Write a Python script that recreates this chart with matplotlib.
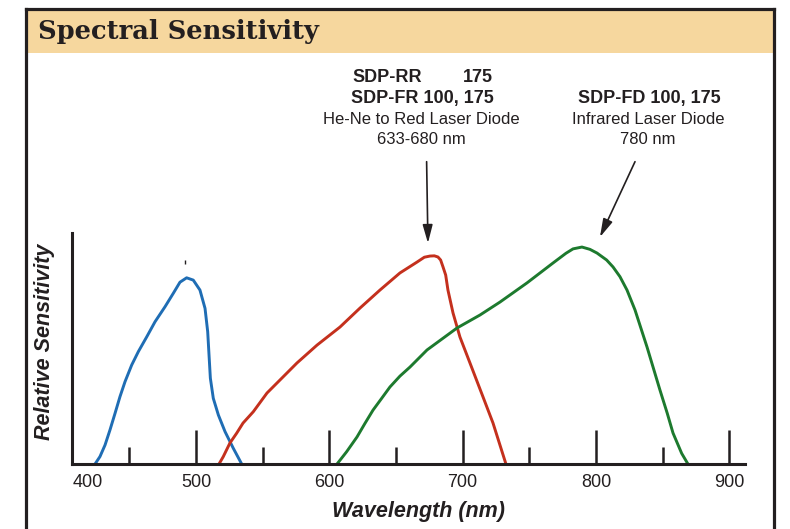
import matplotlib.pyplot as plt
from matplotlib.patches import Rectangle
from matplotlib.lines import Line2D

# wavelength (nm) / relative sensitivity
blue_nm = [424.3, 428.0, 431.8, 435.5, 439.3, 443.0, 446.8, 451.8, 456.8, 463.1,
           469.3, 476.8, 483.0, 488.0, 493.0, 498.0, 503.0, 506.8, 508.8, 509.8,
           510.8, 513.0, 516.8, 521.8, 528.0, 534.3]
blue_val = [0.0, 0.032, 0.082, 0.147, 0.219, 0.291, 0.356, 0.428, 0.486, 0.550,
            0.615, 0.680, 0.738, 0.786, 0.805, 0.795, 0.752, 0.673, 0.572, 0.471,
            0.371, 0.284, 0.212, 0.140, 0.068, 0.0]

red_nm = [517.3, 520.5, 525.5, 530.5, 535.3, 543.0, 553.3, 575.8, 590.8, 608.0,
          623.0, 638.0, 653.0, 665.8, 671.3, 675.5, 678.8, 681.5, 683.5, 685.3,
          687.3, 689.0, 692.8, 698.0, 705.5, 715.3, 722.8, 732.5]
red_val = [0.0, 0.032, 0.091, 0.133, 0.177, 0.226, 0.307, 0.437, 0.514, 0.592,
           0.674, 0.752, 0.826, 0.873, 0.894, 0.899, 0.900, 0.895, 0.882, 0.852,
           0.817, 0.752, 0.653, 0.549, 0.437, 0.290, 0.177, 0.0]

green_nm = [605.8, 613.0, 620.8, 626.8, 632.8, 639.3, 645.5, 653.0, 660.5, 673.3,
            695.8, 713.0, 728.0, 748.3, 767.8, 777.5, 782.8, 789.5, 795.5, 800.8,
            808.0, 812.8, 818.0, 823.3, 829.3, 838.3, 848.0, 853.5, 857.8, 864.3, 869.0]
green_val = [0.0, 0.053, 0.117, 0.176, 0.233, 0.284, 0.333, 0.380, 0.419, 0.493,
             0.588, 0.644, 0.700, 0.783, 0.869, 0.911, 0.930, 0.938, 0.928, 0.912,
             0.882, 0.852, 0.810, 0.752, 0.666, 0.506, 0.320, 0.219, 0.134, 0.046, 0.0]

tick_pos = [419, 500, 600, 700, 800, 900]
tick_labels = ['400', '500', '600', '700', '800', '900']
minor_pos = [450, 550, 650, 750, 850]

ink = '#231f20'
sans = 'Liberation Sans'

fig = plt.figure(figsize=(7.9, 5.29), dpi=100)
W, H = 790.0, 529.0

def fx(px):
    return px / W

def fy(py):
    return 1 - py / H

# title band and frame
fig.patches.append(Rectangle((fx(25), fy(53)), fx(774) - fx(25), fy(9) - fy(53),
                             transform=fig.transFigure, facecolor='#F6D79E', edgecolor='none'))
for xs, ys in [([25.5, 25.5], [529, 8.5]), ([773.5, 773.5], [529, 8.5]), ([25.5, 773.5], [8.5, 8.5])]:
    fig.lines.append(Line2D([fx(x) for x in xs], [fy(y) for y in ys], transform=fig.transFigure,
                            color=ink, lw=2.3))
fig.text(fx(38), fy(32), 'Spectral Sensitivity', family='DejaVu Serif', weight='bold',
         fontsize=18.5, color=ink, va='center', ha='left')

ax = fig.add_axes([fx(71.7), fy(464), fx(745) - fx(71.7), fy(232.7) - fy(464)])
ax.plot(blue_nm, blue_val, color='#1f6db4', lw=2.1, solid_capstyle='round', solid_joinstyle='round')
ax.plot(red_nm, red_val, color='#c4301d', lw=2.1, solid_capstyle='round', solid_joinstyle='round')
ax.plot(green_nm, green_val, color='#1d7a2e', lw=2.1, solid_capstyle='round', solid_joinstyle='round')
ax.plot([491.8], [0.874], marker='|', ms=3, mew=1, color=ink)

ax.set_xlim(406.8, 911.8)
ax.set_ylim(0, 1)
ax.set_yticks([])
ax.set_xticks(tick_pos)
ax.set_xticklabels(tick_labels, family=sans, fontsize=13, color=ink)
ax.set_xticks(minor_pos, minor=True)
ax.tick_params(axis='x', which='major', direction='in', length=24.5, width=1.8, color=ink, pad=7)
ax.tick_params(axis='x', which='minor', direction='in', length=12.2, width=1.8, color=ink)
ax.xaxis.get_major_ticks()[0].tick1line.set_visible(False)
for sp in ['top', 'right']:
    ax.spines[sp].set_visible(False)
for sp in ['left', 'bottom']:
    ax.spines[sp].set_linewidth(2.2)
    ax.spines[sp].set_color(ink)

fig.text(fx(418), fy(512), 'Wavelength (nm)', family=sans, weight='bold',
         style='italic', fontsize=15.5, color=ink, ha='center', va='center')
fig.text(fx(45), fy(342), 'Relative Sensitivity', family=sans, weight='bold',
         style='italic', fontsize=15.5, color=ink, ha='center', va='center', rotation=90)

# annotation text blocks
fig.text(fx(352), fy(77), 'SDP-RR', family=sans, weight='bold', fontsize=13, color=ink,
         ha='left', va='center')
fig.text(fx(493), fy(77), '175', family=sans, weight='bold', fontsize=13, color=ink,
         ha='right', va='center')
fig.text(fx(422), fy(98), 'SDP-FR 100, 175', family=sans, weight='bold', fontsize=13,
         color=ink, ha='center', va='center')
fig.text(fx(421), fy(119), 'He-Ne to Red Laser Diode', family=sans, fontsize=12,
         color=ink, ha='center', va='center')
fig.text(fx(421), fy(140), '633-680 nm', family=sans, fontsize=12, color=ink,
         ha='center', va='center')
fig.text(fx(649), fy(98), 'SDP-FD 100, 175', family=sans, weight='bold', fontsize=13,
         color=ink, ha='center', va='center')
fig.text(fx(648), fy(119), 'Infrared Laser Diode', family=sans, fontsize=12,
         color=ink, ha='center', va='center')
fig.text(fx(648), fy(140), '780 nm', family=sans, fontsize=12, color=ink,
         ha='center', va='center')

arrow = dict(arrowstyle='-|>,head_length=1.1,head_width=0.3', color=ink, lw=1.2,
             shrinkA=0, shrinkB=0)
ax.annotate('', xy=(674, 0.955), xytext=(673, 1.307), arrowprops=arrow, annotation_clip=False)
ax.annotate('', xy=(803, 0.981), xytext=(829.3, 1.307), arrowprops=arrow, annotation_clip=False)

fig.savefig('out.png', dpi=100)
